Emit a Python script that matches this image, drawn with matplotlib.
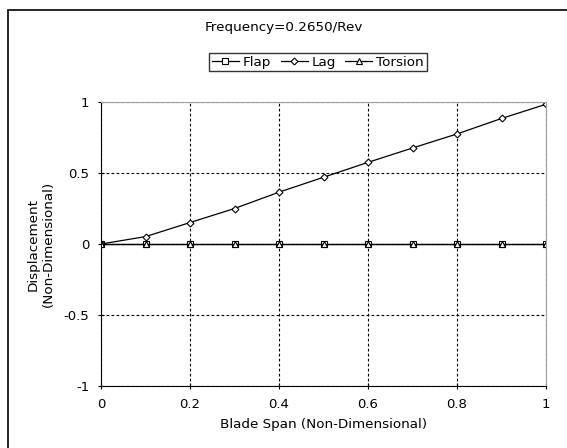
import matplotlib
matplotlib.use('Agg')
import matplotlib.pyplot as plt
from matplotlib.patches import Rectangle

span = [0.0, 0.1, 0.2, 0.3, 0.4, 0.5, 0.6, 0.7, 0.8, 0.9, 1.0]
flap = [0.0, 0.0, 0.0, 0.0, 0.0, 0.0, 0.0, 0.0, 0.0, 0.0, 0.0]
lag = [0.0, 0.052, 0.151, 0.25, 0.365, 0.47, 0.575, 0.676, 0.775, 0.884, 0.984]
torsion = [0.0, 0.0, 0.0, 0.0, 0.0, 0.0, 0.0, 0.0, 0.0, 0.0, 0.0]
xticks = [0, 0.2, 0.4, 0.6, 0.8, 1]
yticks = [-1, -0.5, 0, 0.5, 1]
xlabels = ['0', '0.2', '0.4', '0.6', '0.8', '1']
ylabels = ['-1', '-0.5', '0', '0.5', '1']

plt.rcParams['font.family'] = 'DejaVu Sans'
fig = plt.figure(figsize=(5.67, 4.48), dpi=100)
ax = fig.add_axes([101/567, 1-386/448, 445/567, 284/448])

# outer chart border (right and bottom edges fall outside the image)
fig.patches.append(Rectangle((8/567, -1), 2, 2-10/448, transform=fig.transFigure,
                             fill=False, edgecolor='black', linewidth=1.2))

mk = dict(markersize=3.8, markerfacecolor='white', markeredgecolor='black',
          markeredgewidth=0.8, color='black', linewidth=0.9)
ax.plot(span, flap, marker='s', label='Flap', **mk)
ax.plot(span, lag, marker='D', label='Lag', **dict(mk, markersize=3.5))
ax.plot(span, torsion, marker='^', label='Torsion', **mk)

ax.set_xlim(0, 1)
ax.set_ylim(-1, 1)
ax.set_xticks(xticks)
ax.set_xticklabels(xlabels)
ax.set_yticks(yticks)
ax.set_yticklabels(ylabels)
ax.tick_params(direction='inout', length=5, width=0.8, labelsize=9.5, pad=6)
ax.grid(True, color='black', linestyle=(0, (2.5, 2)), linewidth=0.8)
for s in ['top', 'right']:
    ax.spines[s].set_color('#a0a0a0')
for s in ['left', 'bottom']:
    ax.spines[s].set_color('black')

ax.set_xlabel('Blade Span (Non-Dimensional)', fontsize=9.7, labelpad=5)
ax.set_ylabel('Displacement\n(Non-Dimensional)', fontsize=9.7, labelpad=6)

fig.text(284/567, 1-28/448, 'Frequency=0.2650/Rev', ha='center', va='center', fontsize=9.7)
leg = fig.legend(loc='center', bbox_to_anchor=(318/567, 1-62/448), ncol=3,
                 fontsize=9.7, frameon=True, fancybox=False, edgecolor='black',
                 handlelength=2.0, handletextpad=0.3, columnspacing=0.7,
                 borderpad=0.2)
leg.get_frame().set_linewidth(1.0)

fig.savefig('out.png', dpi=100)
